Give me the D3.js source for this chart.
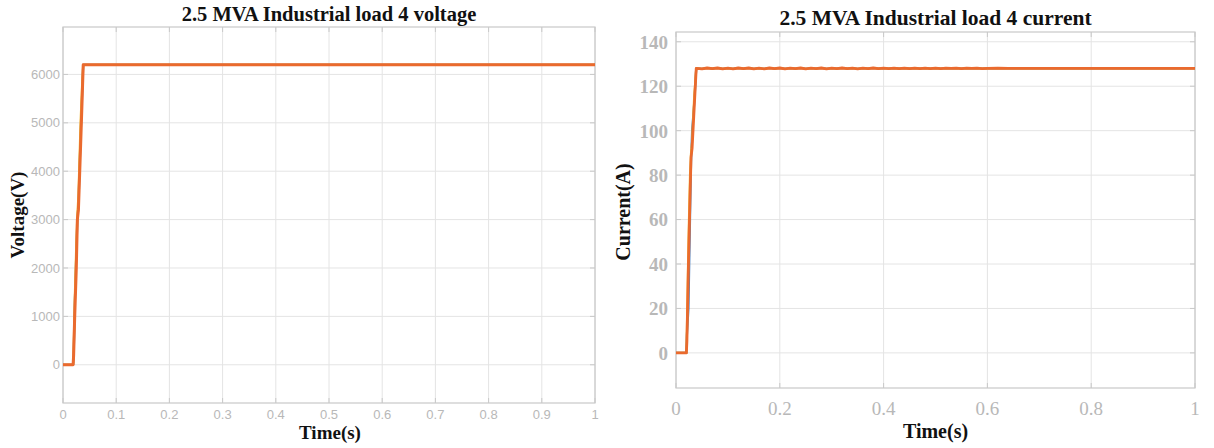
<!DOCTYPE html>
<html>
<head>
<meta charset="utf-8">
<script src="https://cdn.jsdelivr.net/npm/d3@7"></script>
<style>
  html, body { margin: 0; padding: 0; background: #fff; }
  svg { display: block; }
</style>
</head>
<body>
<div id="chart"></div>
<script>
// ---- voltage panel data (three phases, RMS) ----
const voltTime   = [0, 0.019, 0.020, 0.022, 0.025, 0.027, 0.029, 0.033, 0.036, 0.038, 1.0];
const voltPhaseA = [0, 0, 150, 1200, 2300, 3000, 3300, 4700, 5600, 6200, 6200];
const voltPhaseB = [0, 0, 200, 1000, 2000, 3000, 3200, 4500, 5500, 6200, 6200];
const voltPhaseC = [0, 0, 300, 1300, 2500, 3100, 3500, 5000, 5800, 6200, 6200];
const voltXTicks = [0, 0.1, 0.2, 0.3, 0.4, 0.5, 0.6, 0.7, 0.8, 0.9, 1];
const voltYTicks = [0, 1000, 2000, 3000, 4000, 5000, 6000];

// ---- current panel data ----
const currTime = [0, 0.020, 0.021, 0.024, 0.027, 0.029, 0.031, 0.035, 0.039,
  0.04, 0.05, 0.06, 0.07, 0.08, 0.09, 0.10, 0.11, 0.12, 0.13, 0.14, 0.15, 0.16, 0.17,
  0.18, 0.19, 0.20, 0.21, 0.22, 0.23, 0.24, 0.25, 0.26, 0.27, 0.28, 0.29, 0.30, 0.31,
  0.32, 0.33, 0.34, 0.35, 0.36, 0.37, 0.38, 0.39, 0.40, 0.41, 0.42, 0.43, 0.44, 0.45,
  0.46, 0.47, 0.48, 0.49, 0.50, 0.51, 0.52, 0.53, 0.54, 0.55, 0.56, 0.57, 0.58, 0.59,
  0.60, 0.62, 0.64, 0.66, 0.68, 0.70, 0.75, 0.80, 1.0];
const currPhaseB = [0, 0, 5, 40, 70, 88, 92, 110, 128,
  128.0, 127.8, 128.2, 127.9, 128.2, 127.8, 128.1, 127.8, 128.2, 127.9, 128.2, 127.8, 128.1, 127.8,
  128.2, 127.9, 128.2, 127.8, 128.1, 127.9, 128.2, 127.8, 128.1, 127.9, 128.2, 127.8, 128.1, 127.9,
  128.2, 127.9, 128.1, 127.8, 128.1, 127.9, 128.2, 127.9, 128.1, 127.9, 128.1, 127.9, 128.1, 127.9,
  128.1, 127.9, 128.1, 127.9, 128.1, 127.9, 128.1, 128.0, 128.1, 127.9, 128.1, 128.0, 128.1, 127.9,
  128.0, 128.1, 128.0, 128.0, 128.0, 128.0, 128.0, 128.0, 128.0];
const currPhaseA = [0, 0, 8, 20, 60, 86, 100, 112, 128,
  128.0, 127.8, 128.2, 127.9, 128.2, 127.8, 128.1, 127.8, 128.2, 127.9, 128.2, 127.8, 128.1, 127.8,
  128.2, 127.9, 128.2, 127.8, 128.1, 127.9, 128.2, 127.8, 128.1, 127.9, 128.2, 127.8, 128.1, 127.9,
  128.2, 127.9, 128.1, 127.8, 128.1, 127.9, 128.2, 127.9, 128.1, 127.9, 128.1, 127.9, 128.1, 127.9,
  128.1, 127.9, 128.1, 127.9, 128.1, 127.9, 128.1, 128.0, 128.1, 127.9, 128.1, 128.0, 128.1, 127.9,
  128.0, 128.1, 128.0, 128.0, 128.0, 128.0, 128.0, 128.0, 128.0];
const currPhaseC = [0, 0, 10, 50, 80, 90, 95, 115, 128,
  128.0, 127.8, 128.2, 127.9, 128.2, 127.8, 128.1, 127.8, 128.2, 127.9, 128.2, 127.8, 128.1, 127.8,
  128.2, 127.9, 128.2, 127.8, 128.1, 127.9, 128.2, 127.8, 128.1, 127.9, 128.2, 127.8, 128.1, 127.9,
  128.2, 127.9, 128.1, 127.8, 128.1, 127.9, 128.2, 127.9, 128.1, 127.9, 128.1, 127.9, 128.1, 127.9,
  128.1, 127.9, 128.1, 127.9, 128.1, 127.9, 128.1, 128.0, 128.1, 127.9, 128.1, 128.0, 128.1, 127.9,
  128.0, 128.1, 128.0, 128.0, 128.0, 128.0, 128.0, 128.0, 128.0];
const currXTicks = [0, 0.2, 0.4, 0.6, 0.8, 1];
const currYTicks = [0, 20, 40, 60, 80, 100, 120, 140];

const COLORS = { a: '#4a7fc0', b: '#ea6a2e', c: '#f0b632' };

const width = 1214;
const height = 448;

const svg = d3.select('#chart').append('svg')
  .attr('width', width)
  .attr('height', height);

function drawPanel(cfg) {
  const g = svg.append('g');
  const x = d3.scaleLinear().domain(cfg.xDomain).range([cfg.left, cfg.right]);
  const y = d3.scaleLinear().domain(cfg.yDomain).range([cfg.bottom, cfg.top]);

  // grid
  g.selectAll('line.gx').data(cfg.xTicks).join('line')
    .attr('x1', (d) => x(d)).attr('x2', (d) => x(d))
    .attr('y1', cfg.top).attr('y2', cfg.bottom)
    .attr('stroke', '#e4e4e4').attr('stroke-width', 1);
  g.selectAll('line.gy').data(cfg.yTicks).join('line')
    .attr('x1', cfg.left).attr('x2', cfg.right)
    .attr('y1', (d) => y(d)).attr('y2', (d) => y(d))
    .attr('stroke', '#e4e4e4').attr('stroke-width', 1);

  // box + inward ticks
  g.append('rect')
    .attr('x', cfg.left).attr('y', cfg.top)
    .attr('width', cfg.right - cfg.left).attr('height', cfg.bottom - cfg.top)
    .attr('fill', 'none').attr('stroke', '#c9c9c9').attr('stroke-width', 1.2);

  const tk = 5;
  cfg.xTicks.forEach((d) => {
    g.append('line').attr('x1', x(d)).attr('x2', x(d)).attr('y1', cfg.bottom).attr('y2', cfg.bottom - tk)
      .attr('stroke', '#c9c9c9');
    g.append('line').attr('x1', x(d)).attr('x2', x(d)).attr('y1', cfg.top).attr('y2', cfg.top + tk)
      .attr('stroke', '#c9c9c9');
  });
  cfg.yTicks.forEach((d) => {
    g.append('line').attr('x1', cfg.left).attr('x2', cfg.left + tk).attr('y1', y(d)).attr('y2', y(d))
      .attr('stroke', '#c9c9c9');
    g.append('line').attr('x1', cfg.right).attr('x2', cfg.right - tk).attr('y1', y(d)).attr('y2', y(d))
      .attr('stroke', '#c9c9c9');
  });

  // tick labels
  g.selectAll('text.xt').data(cfg.xTicks).join('text')
    .attr('x', (d) => x(d))
    .attr('y', cfg.xTickY)
    .attr('text-anchor', 'middle')
    .attr('font-family', cfg.tickFont)
    .attr('font-size', cfg.xTickSize)
    .attr('font-weight', cfg.xTickWeight)
    .attr('fill', '#b8b8b8')
    .text((d) => d3.format('~g')(d));
  g.selectAll('text.yt').data(cfg.yTicks).join('text')
    .attr('x', cfg.left - cfg.yTickGap)
    .attr('y', (d) => y(d))
    .attr('dy', '0.36em')
    .attr('text-anchor', 'end')
    .attr('font-family', cfg.tickFont)
    .attr('font-size', cfg.yTickSize)
    .attr('font-weight', cfg.yTickWeight)
    .attr('fill', '#b8b8b8')
    .text((d) => d);

  // series: blue and yellow beneath, orange on top
  const clipId = `clip-${cfg.id}`;
  svg.append('clipPath').attr('id', clipId).append('rect')
    .attr('x', cfg.left).attr('y', cfg.top)
    .attr('width', cfg.right - cfg.left).attr('height', cfg.bottom - cfg.top);

  const line = d3.line().x((d) => x(d[0])).y((d) => y(d[1]));
  cfg.series.forEach((s) => {
    g.append('path')
      .datum(cfg.time.map((t, i) => [t, s.values[i]]))
      .attr('clip-path', `url(#${clipId})`)
      .attr('fill', 'none')
      .attr('stroke', s.color)
      .attr('stroke-width', s.width)
      .attr('stroke-linejoin', 'round')
      .attr('d', line);
  });

  // title + axis labels
  g.append('text')
    .attr('x', (cfg.left + cfg.right) / 2)
    .attr('y', cfg.titleY)
    .attr('text-anchor', 'middle')
    .attr('font-family', 'Liberation Serif, Times New Roman, serif')
    .attr('font-weight', 700)
    .attr('font-size', cfg.titleSize)
    .attr('fill', '#111')
    .text(cfg.title);

  g.append('text')
    .attr('x', (cfg.left + cfg.right) / 2 + cfg.xLabelShift)
    .attr('y', cfg.xLabelY)
    .attr('text-anchor', 'middle')
    .attr('font-family', 'Liberation Serif, Times New Roman, serif')
    .attr('font-weight', 700)
    .attr('font-size', cfg.labelSize)
    .attr('fill', '#111')
    .text('Time(s)');

  g.append('text')
    .attr('transform', `translate(${cfg.yLabelX},${cfg.yLabelCy}) rotate(-90)`)
    .attr('text-anchor', 'middle')
    .attr('font-family', 'Liberation Serif, Times New Roman, serif')
    .attr('font-weight', 700)
    .attr('font-size', cfg.labelSize)
    .attr('fill', '#111')
    .text(cfg.yLabel);
}

drawPanel({
  id: 'volt',
  left: 63, right: 595, top: 27, bottom: 403,
  xDomain: [0, 1], yDomain: [-790, 6980],
  xTicks: voltXTicks, yTicks: voltYTicks,
  tickFont: 'Liberation Sans, Arial, sans-serif',
  xTickSize: 13, yTickSize: 13, xTickWeight: 400, yTickWeight: 400,
  xTickY: 419, yTickGap: 3,
  time: voltTime,
  series: [
    { values: voltPhaseA, color: COLORS.a, width: 2.2 },
    { values: voltPhaseC, color: COLORS.c, width: 2.2 },
    { values: voltPhaseB, color: COLORS.b, width: 3 },
  ],
  title: '2.5 MVA Industrial load 4 voltage', titleY: 21, titleSize: 20.5,
  yLabel: 'Voltage(V)', yLabelX: 24, yLabelCy: 215,
  xLabelY: 439, xLabelShift: 1, labelSize: 19,
});

drawPanel({
  id: 'curr',
  left: 676, right: 1195, top: 32, bottom: 388,
  xDomain: [0, 1], yDomain: [-15.8, 144.4],
  xTicks: currXTicks, yTicks: currYTicks,
  tickFont: 'Liberation Serif, Times New Roman, serif',
  xTickSize: 19, yTickSize: 19, xTickWeight: 400, yTickWeight: 700,
  xTickY: 415, yTickGap: 8,
  time: currTime,
  series: [
    { values: currPhaseA, color: COLORS.a, width: 2.2 },
    { values: currPhaseC, color: COLORS.c, width: 2.2 },
    { values: currPhaseB, color: COLORS.b, width: 2.8 },
  ],
  title: '2.5 MVA Industrial load 4 current', titleY: 25, titleSize: 21.5,
  yLabel: 'Current(A)', yLabelX: 630, yLabelCy: 212,
  xLabelY: 438, xLabelShift: 0, labelSize: 20,
});
</script>
</body>
</html>
